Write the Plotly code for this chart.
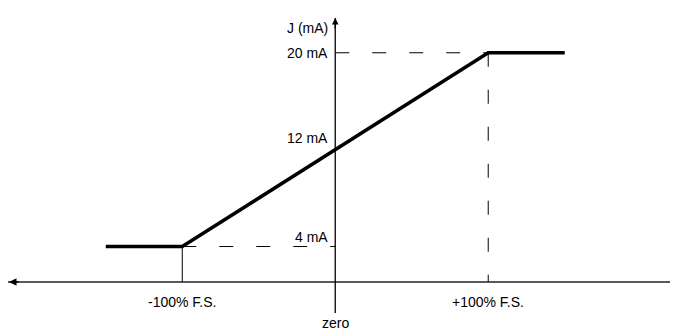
import plotly.graph_objects as go

# Transfer characteristic: input in % of full scale -> output current in mA
input_pct = [-150, -100, 100, 150]
current_ma = [4, 4, 20, 20]

# labelled current levels on the vertical axis
level_ma = [20, 12, 4]
level_labels = ["20 mA", "12 mA", "4 mA"]

# labelled input points on the horizontal axis
input_marks = [-100, 100]
input_labels = ["-100% F.S.", "+100% F.S."]

X_RANGE = [-213.9, 223.4]
Y_RANGE = [1.07, 22.87]

FONT = dict(family="Liberation Sans, Arial, sans-serif", size=14, color="black")
DASH = "14px,23px"

fig = go.Figure()

# main curve
fig.add_trace(go.Scatter(x=input_pct, y=current_ma, mode="lines",
                         line=dict(color="black", width=3.5), hoverinfo="skip"))

# guide lines
fig.add_trace(go.Scatter(x=[input_marks[0], 0], y=[level_ma[2], level_ma[2]], mode="lines",
                         line=dict(color="black", width=1, dash=DASH)))
fig.add_trace(go.Scatter(x=[0, input_marks[1]], y=[level_ma[0], level_ma[0]], mode="lines",
                         line=dict(color="black", width=1, dash=DASH)))
fig.add_trace(go.Scatter(x=[input_marks[1], input_marks[1]], y=[level_ma[0], Y_RANGE[0]], mode="lines",
                         line=dict(color="black", width=1, dash=DASH)))
fig.add_trace(go.Scatter(x=[input_marks[0], input_marks[0]], y=[level_ma[2], Y_RANGE[0]], mode="lines",
                         line=dict(color="black", width=1)))

# axes drawn as crossing lines
fig.add_shape(type="line", xref="paper", yref="paper", x0=0, x1=1, y0=0, y1=0,
              line=dict(color="#222", width=1.3))
fig.add_shape(type="line", xref="x", yref="paper", x0=0, x1=0, y0=-0.117, y1=1,
              line=dict(color="black", width=1.3))

annotations = [
    # arrow heads
    dict(x=0, y=1, xref="x", yref="paper", ax=0, ay=12, showarrow=True,
         arrowhead=2, arrowsize=1, arrowwidth=1.3, arrowcolor="black", text=""),
    dict(x=0, y=0, xref="paper", yref="paper", ax=12, ay=0, showarrow=True,
         arrowhead=2, arrowsize=1, arrowwidth=1.5, arrowcolor="black", text=""),
    dict(x=0, y=1, xref="x", yref="paper", text="J (mA)", showarrow=False,
         xanchor="right", yanchor="top", xshift=-5, font=FONT),
    dict(x=0, y=0, xref="x", yref="paper", text="zero", showarrow=False,
         yanchor="middle", yshift=-41, font=FONT),
]

level_shift = [0, 12, 10]
for v, lab, s in zip(level_ma, level_labels, level_shift):
    annotations.append(dict(x=0, y=v, xref="x", yref="y", text=lab, showarrow=False,
                            xanchor="right", yanchor="middle", xshift=-5, yshift=s, font=FONT))

for v, lab in zip(input_marks, input_labels):
    annotations.append(dict(x=v, y=0, xref="x", yref="paper", text=lab, showarrow=False,
                            yanchor="middle", yshift=-20, font=FONT))

# page body adds an 8px offset, so margins are set 8px tighter on top/left
fig.update_layout(
    width=678, height=336,
    margin=dict(l=0, r=9, t=10, b=62),
    paper_bgcolor="white", plot_bgcolor="white",
    showlegend=False,
    xaxis=dict(range=X_RANGE, visible=False, fixedrange=True),
    yaxis=dict(range=Y_RANGE, visible=False, fixedrange=True),
    annotations=annotations,
    font=FONT,
)

fig.write_html("out.html")
